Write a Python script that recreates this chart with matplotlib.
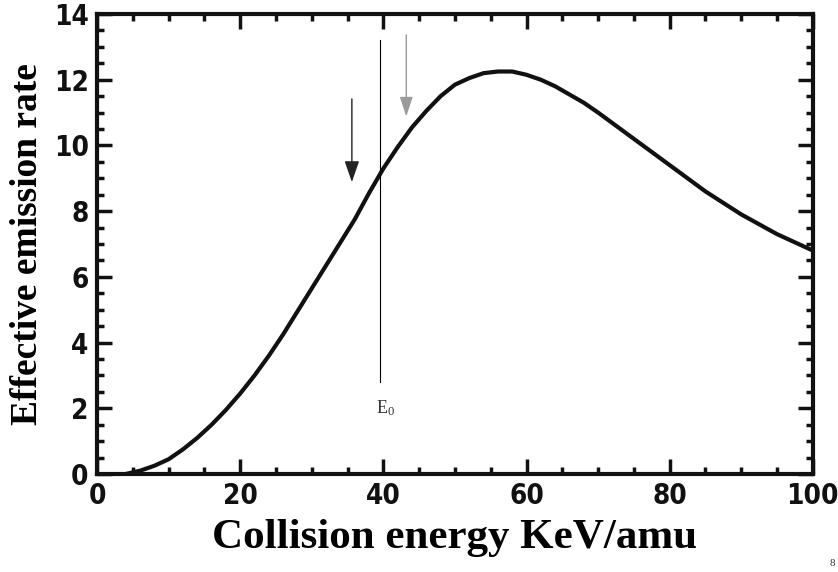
import numpy as np
import matplotlib
matplotlib.use("Agg")
import matplotlib.pyplot as plt
from matplotlib.ticker import MultipleLocator

# ── data ──────────────────────────────────────────────────────────────
energy = [4, 6, 8, 10, 12, 14, 16, 18, 20, 22, 24, 26, 28, 30, 32, 34, 36,
          38, 40, 42, 44, 46, 48, 50, 52, 54, 56, 58, 60, 62, 64, 66, 68,
          70, 75, 80, 85, 90, 95, 100]
emission_rate = [0.0, 0.1, 0.25, 0.45, 0.75, 1.1, 1.5, 1.95, 2.45, 3.0, 3.6,
                 4.25, 4.95, 5.65, 6.35, 7.05, 7.75, 8.55, 9.3, 9.95, 10.55,
                 11.05, 11.5, 11.85, 12.05, 12.2, 12.25, 12.25, 12.15, 12.0,
                 11.8, 11.55, 11.3, 11.0, 10.2, 9.4, 8.6, 7.9, 7.3, 6.8]

e0_energy = 39.5                 # E0 marker line
e0_span = (2.8, 13.2)
black_arrow = (35.6, 11.5, 8.8)  # x, start y, tip y
gray_arrow = (43.2, 13.45, 10.8)

x_ticks = [0, 20, 40, 60, 80, 100]
y_ticks = [0, 2, 4, 6, 8, 10, 12, 14]

# ── figure ────────────────────────────────────────────────────────────
fig = plt.figure(figsize=(8.38, 5.72), dpi=100)
ax = fig.add_axes([0.1158, 0.1713, 0.8542, 0.8042])

ax.plot(energy, emission_rate, color="#111111", lw=3.0, solid_capstyle="round")

ax.plot([e0_energy, e0_energy], e0_span, color="black", lw=0.8)
ax.text(e0_energy + 0.8, 2.0, r"$\mathregular{E_0}$", fontsize=13,
        family="Liberation Serif", color="#333333", ha="center", va="center")

ax.annotate("", xy=(black_arrow[0], black_arrow[2]),
            xytext=(black_arrow[0], black_arrow[1]),
            arrowprops=dict(arrowstyle="-|>,head_length=1.3,head_width=0.45",
                            color="#222222", lw=1.0))
ax.annotate("", xy=(gray_arrow[0], gray_arrow[2]),
            xytext=(gray_arrow[0], gray_arrow[1]),
            arrowprops=dict(arrowstyle="-|>,head_length=1.2,head_width=0.4",
                            color="#9a9a9a", lw=1.0))

ax.set_xlim(0, 100)
ax.set_ylim(0, 14)
ax.set_xticks(x_ticks)
ax.set_yticks(y_ticks)
ax.xaxis.set_minor_locator(MultipleLocator(5))
ax.yaxis.set_minor_locator(MultipleLocator(0.5))

for s in ax.spines.values():
    s.set_linewidth(3)
    s.set_color("#111111")

ax.tick_params(which="both", direction="in", top=True, right=True,
               color="#111111", width=2.5)
ax.tick_params(which="major", length=11, pad=6)
ax.tick_params(which="minor", length=5)

for lbl in ax.get_xticklabels() + ax.get_yticklabels():
    lbl.set_fontfamily(["Liberation Sans Narrow", "DejaVu Sans"])
    lbl.set_fontstretch("condensed")
    lbl.set_fontweight("bold")
    lbl.set_fontsize(20)
    lbl.set_color("#111111")

ax.set_xlabel("Collision energy KeV/amu", family="Liberation Serif",
              fontweight="bold", fontsize=31, labelpad=6)
ax.set_ylabel("Effective emission rate", family="Liberation Serif",
              fontweight="bold", fontsize=27, labelpad=6)

fig.text(0.993, 0.014, "8", fontsize=8, ha="center", va="center",
         family="Liberation Serif", color="#333333")

fig.savefig("out.png", dpi=100)
